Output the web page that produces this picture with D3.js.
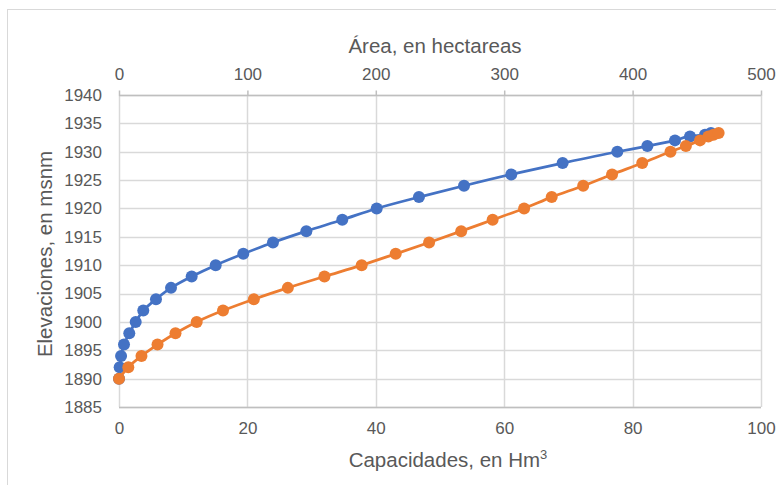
<!DOCTYPE html>
<html>
<head>
<meta charset="utf-8">
<script src="https://cdn.jsdelivr.net/npm/d3@7"></script>
<style>
  html, body { margin: 0; padding: 0; background: #fff; }
  svg { display: block; }
  text { font-family: "Liberation Sans", Arial, sans-serif; fill: #595959; }
</style>
</head>
<body>
<div id="chart"></div>
<script>
// Data
const elevations = [1890,1892,1894,1896,1898,1900,1902,1904,1906,1908,1910,1912,1914,1916,1918,1920,1922,1924,1926,1928,1930,1931,1932,1932.7,1933,1933.3];
const areaHa = [0,0.5,1.6,3.9,8,13,18.9,28.8,40.5,56.6,75.3,96.8,119.9,145.9,173.9,200.7,233.6,268.7,305.5,345.5,388.1,411.5,433,444.7,456.4,461];
const capacityHm3 = [0,1.45,3.5,6.0,8.8,12.1,16.2,21.0,26.3,32.0,37.8,43.1,48.3,53.3,58.2,63.1,67.4,72.3,76.8,81.5,85.9,88.3,90.5,91.8,92.6,93.4];
const yTicks = [1885,1890,1895,1900,1905,1910,1915,1920,1925,1930,1935,1940];
const capTicks = [0,20,40,60,80,100];
const areaTicks = [0,100,200,300,400,500];
const titleTop = "Área, en hectareas";
const titleBottom = "Capacidades, en Hm";
const titleBottomSup = "3";
const titleY = "Elevaciones, en msnm";

const W = 776, H = 485;
const L = 119, R = 761, T = 95, B = 407;
const blue = "#4472C4", orange = "#ED7D31";
const gridColor = "#d9d9d9";

const svg = d3.select("#chart").append("svg").attr("width", W).attr("height", H);

// outer chart frame
svg.append("rect").attr("x", 7.5).attr("y", 9.5).attr("width", 800).attr("height", 500)
  .attr("fill", "none").attr("stroke", gridColor).attr("stroke-width", 1);

const y = d3.scaleLinear().domain([1885, 1940]).range([B, T]);
const xCap = d3.scaleLinear().domain([0, 100]).range([L, R]);
const xArea = d3.scaleLinear().domain([0, 500]).range([L, R]);

// gridlines
const grid = svg.append("g");
grid.selectAll("line.h").data(yTicks).join("line")
  .attr("x1", L).attr("x2", R)
  .attr("y1", d => Math.round(y(d)) + 0.5).attr("y2", d => Math.round(y(d)) + 0.5)
  .attr("stroke", gridColor).attr("stroke-width", 1.5);
grid.selectAll("line.v").data(capTicks).join("line")
  .attr("x1", d => Math.round(xCap(d)) + 0.5).attr("x2", d => Math.round(xCap(d)) + 0.5)
  .attr("y1", T).attr("y2", B)
  .attr("stroke", gridColor).attr("stroke-width", 1.5);

// axes
const fs = 17;
const axL = svg.append("g").attr("transform", `translate(${L},0)`)
  .call(d3.axisLeft(y).tickValues(yTicks).tickSize(0).tickPadding(17).tickFormat(d3.format("d")));
const axB = svg.append("g").attr("transform", `translate(0,${B})`)
  .call(d3.axisBottom(xCap).tickValues(capTicks).tickSize(0).tickPadding(15).tickFormat(d3.format("d")));
const axT = svg.append("g").attr("transform", `translate(0,${T + 0.5})`)
  .call(d3.axisTop(xArea).tickValues(areaTicks).tickSize(5).tickPadding(11).tickFormat(d3.format("d")));
[axL, axB, axT].forEach(g => {
  g.selectAll("text").attr("font-size", fs).attr("font-family", '"Liberation Sans", Arial, sans-serif').attr("fill", "#595959");
  g.selectAll(".domain").remove();
});
axT.selectAll(".tick line").attr("stroke", "#bfbfbf").attr("stroke-width", 1.5);
axT.append("line").attr("x1", L).attr("x2", R).attr("y1", 0).attr("y2", 0)
  .attr("stroke", "#bfbfbf").attr("stroke-width", 1.5);
axB.append("line").attr("x1", L).attr("x2", R).attr("y1", 0.5).attr("y2", 0.5)
  .attr("stroke", "#bfbfbf").attr("stroke-width", 1.5);

// series
const areaData = elevations.map((e, i) => ({ x: areaHa[i], y: e }));
const capData = elevations.map((e, i) => ({ x: capacityHm3[i], y: e }));

function drawSeries(data, xs, color) {
  const line = d3.line().x(d => xs(d.x)).y(d => y(d.y)).curve(d3.curveMonotoneY);
  svg.append("path").datum(data).attr("d", line)
    .attr("fill", "none").attr("stroke", color).attr("stroke-width", 2.75);
  svg.append("g").selectAll("circle").data(data).join("circle")
    .attr("cx", d => xs(d.x)).attr("cy", d => y(d.y)).attr("r", 6)
    .attr("fill", color);
}
drawSeries(areaData, xArea, blue);
drawSeries(capData, xCap, orange);

// titles
svg.append("text").attr("x", 435).attr("y", 53).attr("text-anchor", "middle")
  .attr("font-size", 20.5).text(titleTop);
const tb = svg.append("text").attr("x", 448).attr("y", 467).attr("text-anchor", "middle")
  .attr("font-size", 20.5);
tb.append("tspan").text(titleBottom);
tb.append("tspan").attr("font-size", 13).attr("dy", -8).text(titleBottomSup);
svg.append("text").attr("transform", "translate(52,254) rotate(-90)").attr("text-anchor", "middle")
  .attr("font-size", 20.5).text(titleY);
</script>
</body>
</html>
